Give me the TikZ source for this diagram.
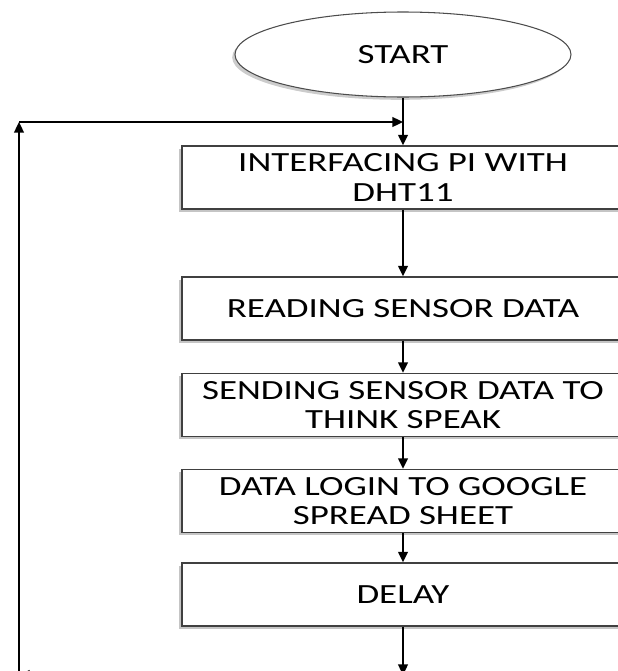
\documentclass[tikz,border=0pt]{standalone}
\usepackage{fontspec}
\setmainfont{Carlito}[FakeStretch=1.33]
\usetikzlibrary{shapes.geometric,shadows,arrows.meta}

\tikzset{
	stepbox/.style={draw=black!75, line width=0.8pt, fill=white, minimum width=8.84cm, minimum height=1.26cm, align=center, font=\fontsize{15.8}{16.8}\selectfont, drop shadow={shadow xshift=-1.6pt, shadow yshift=-1.6pt, fill=black!45}},
	flow/.style={line width=1.1pt, -{Triangle[length=6pt,width=5.5pt]}}
}

\begin{document}
\begin{tikzpicture}
		\useasboundingbox (0,0) rectangle (12.36,-13.42);
		\node[ellipse, draw=black!70, line width=0.6pt, fill=white, minimum width=6.72cm, minimum height=1.7cm, font=\fontsize{15.8}{17}\selectfont, drop shadow={shadow xshift=-1.6pt, shadow yshift=-1.6pt, fill=black!40}] (start) at (8.06,-1.09) {START};
		\node[stepbox] (iface) at (8.06,-3.55) {INTERFACING PI WITH\\DHT11};
		\node[stepbox] (read) at (8.06,-6.17) {READING SENSOR DATA};
		\node[stepbox] (send) at (8.06,-8.10) {SENDING SENSOR DATA TO\\THINK SPEAK};
		\node[stepbox] (login) at (8.06,-10.02) {DATA LOGIN TO GOOGLE\\SPREAD SHEET};
		\node[stepbox] (delay) at (8.06,-11.89) {DELAY};
		\coordinate (join) at (8.06,-2.44);
		\coordinate (botright) at (8.06,-13.5);
		\coordinate (botleft) at (0.38,-13.5);
		\coordinate (topleft) at (0.38,-2.44);
		% main flow
		\draw[flow] (start) -- (iface);
		\draw[flow] (iface) -- (read);
		\draw[flow] (read) -- (send);
		\draw[flow] (send) -- (login);
		\draw[flow] (login) -- (delay);
		% loop back
		\draw[flow] (delay) -- (botright);
		\draw[flow] (botright) -- (botleft);
		\draw[flow] (botleft) -- (topleft);
		\draw[flow] (topleft) -- (join);
	\end{tikzpicture}
\end{document}
